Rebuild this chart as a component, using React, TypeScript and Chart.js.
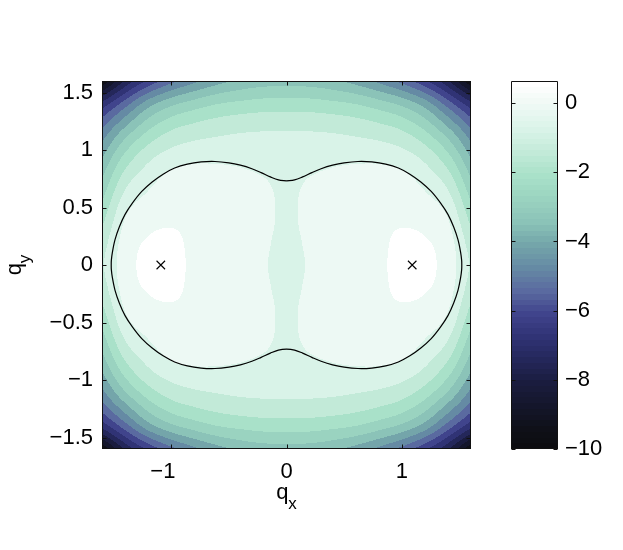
import React, { useEffect, useRef } from 'react';
import { Chart, registerables } from 'chart.js';

Chart.register(...registerables);

const FONT = "'Liberation Sans', Arial, Helvetica, sans-serif";

// ---------- data ----------
const X_TICKS = [-1, 0, 1];
const Y_TICKS = [-1.5, -1, -0.5, 0, 0.5, 1, 1.5];
const CB_TICKS = [0, -2, -4, -6, -8, -10];
const AXIS_MIN = -1.6;
const AXIS_MAX = 1.6;
const CB_MIN = -10;
const CB_MAX = 0.64;

// field samples in one quadrant (q >= 0), the surface is symmetric in qx and qy
const GRID_NODES = [0, 0.2, 0.4, 0.6, 0.8, 1.0, 1.2, 1.4, 1.6];
const ROW_00 = [-1.00, -0.62, -0.42, -0.22, -0.17, 0.24, 0.15, -0.32, -1.45];
const ROW_02 = [-0.97, -0.53, -0.38, -0.22, -0.20, 0.16, 0.04, -0.40, -1.71];
const ROW_04 = [-0.90, -0.40, -0.36, -0.25, -0.20, -0.14, -0.27, -0.68, -2.23];
const ROW_06 = [-0.93, -0.42, -0.40, -0.35, -0.30, -0.32, -0.60, -1.18, -2.85];
const ROW_08 = [-1.02, -0.75, -0.60, -0.52, -0.50, -0.62, -1.07, -1.89, -3.52];
const ROW_10 = [-1.12, -1.09, -1.04, -1.03, -1.08, -1.28, -1.80, -2.80, -4.35];
const ROW_12 = [-1.45, -1.46, -1.52, -1.65, -1.85, -2.17, -2.87, -4.02, -5.42];
const ROW_14 = [-2.39, -2.40, -2.52, -2.69, -3.04, -3.50, -4.30, -5.65, -7.13];
const ROW_16 = [-3.60, -3.68, -3.88, -4.28, -4.85, -5.57, -6.56, -7.93, -10.0];
const FIELD = [ROW_00, ROW_02, ROW_04, ROW_06, ROW_08, ROW_10, ROW_12, ROW_14, ROW_16];

// contour levels of the filled plot
const LEVELS = [0.64, -0.025, -0.69, -1.355, -2.02, -2.685, -3.35, -4.015, -4.68, -5.345, -6.01, -6.675, -7.34, -8.005, -8.67, -9.335, -10];

// colormap stops
const CMAP_V = [0.64, 0, -0.7, -1.35, -2.0, -2.7, -3.35, -4.0, -4.7, -5.35, -6.0, -6.7, -7.35, -8.0, -8.7, -9.35, -10];
const CMAP_C = ['#ffffff', '#eef9f4', '#d9f3e8', '#c2ead8', '#a9e1c9', '#9ad3c0', '#8bc3b8', '#74a6aa', '#6589a4', '#5a6aa0', '#40448c', '#2f3274', '#24275a', '#1a1c3e', '#14162a', '#0f1018', '#0b0b0d'];
const CB_CELLS = 64;

// black contour, quadrant qx >= 0, qy >= 0 (from neck to right extreme)
const CONTOUR_Q: [number, number][] = [
  [0, 0.732], [0.07, 0.74], [0.14, 0.766], [0.22, 0.803], [0.3, 0.837], [0.4, 0.868],
  [0.5, 0.888], [0.62, 0.9], [0.74, 0.896], [0.86, 0.877], [0.97, 0.843], [1.07, 0.79],
  [1.165, 0.722], [1.255, 0.64], [1.335, 0.54], [1.4, 0.44], [1.45, 0.33], [1.487, 0.22],
  [1.51, 0.11], [1.519, 0.04], [1.52, 0],
];

const MARKERS_X = [-1.09, 1.09];
const MARKERS_Y = [0, 0];

// ---------- helpers ----------
function hexRgb(h: string): [number, number, number] {
  return [parseInt(h.slice(1, 3), 16), parseInt(h.slice(3, 5), 16), parseInt(h.slice(5, 7), 16)];
}
const CMAP_RGB = CMAP_C.map(hexRgb);

function cmap(v: number): [number, number, number] {
  if (v >= CMAP_V[0]) return CMAP_RGB[0];
  for (let k = 1; k < CMAP_V.length; k++) {
    if (v >= CMAP_V[k]) {
      const t = (CMAP_V[k - 1] - v) / (CMAP_V[k - 1] - CMAP_V[k]);
      const a = CMAP_RGB[k - 1], b = CMAP_RGB[k];
      return [a[0] + (b[0] - a[0]) * t, a[1] + (b[1] - a[1]) * t, a[2] + (b[2] - a[2]) * t];
    }
  }
  return CMAP_RGB[CMAP_RGB.length - 1];
}

const NMAX = GRID_NODES.length - 1;
const STEP = GRID_NODES[1] - GRID_NODES[0];

function nodeVal(i: number, j: number): number {
  const ii = Math.abs(i), jj = Math.abs(j);
  if (ii > NMAX) return 2 * nodeVal(NMAX, jj) - nodeVal(NMAX - 1, jj);
  if (jj > NMAX) return 2 * nodeVal(ii, NMAX) - nodeVal(ii, NMAX - 1);
  return FIELD[jj][ii];
}

function cr(p0: number, p1: number, p2: number, p3: number, t: number) {
  return 0.5 * (2 * p1 + (-p0 + p2) * t + (2 * p0 - 5 * p1 + 4 * p2 - p3) * t * t + (-p0 + 3 * p1 - 3 * p2 + p3) * t * t * t);
}

function fieldAt(x: number, y: number): number {
  const u = Math.min(Math.abs(x) / STEP, NMAX);
  const w = Math.min(Math.abs(y) / STEP, NMAX);
  const i = Math.min(Math.floor(u), NMAX - 1);
  const j = Math.min(Math.floor(w), NMAX - 1);
  const tx = u - i, ty = w - j;
  const col: number[] = [];
  for (let m = -1; m <= 2; m++) {
    col.push(cr(nodeVal(i - 1, j + m), nodeVal(i, j + m), nodeVal(i + 1, j + m), nodeVal(i + 2, j + m), tx));
  }
  return cr(col[0], col[1], col[2], col[3], ty);
}

function fmt(v: number): string {
  const s = String(Math.abs(Math.round(v * 100) / 100));
  return v < 0 ? '\u2212' + s : s;
}

function contourLoop() {
  const pts: { x: number; y: number }[] = [];
  const n = CONTOUR_Q.length;
  for (let k = 0; k < n; k++) pts.push({ x: CONTOUR_Q[k][0], y: CONTOUR_Q[k][1] });
  for (let k = n - 2; k >= 0; k--) pts.push({ x: CONTOUR_Q[k][0], y: -CONTOUR_Q[k][1] });
  for (let k = 1; k < n; k++) pts.push({ x: -CONTOUR_Q[k][0], y: -CONTOUR_Q[k][1] });
  for (let k = n - 2; k >= 0; k--) pts.push({ x: -CONTOUR_Q[k][0], y: CONTOUR_Q[k][1] });
  return pts;
}

// ---------- plugins ----------
const fieldPlugin = {
  id: 'fieldFill',
  beforeDatasetsDraw(chart: any) {
    const { ctx, chartArea: a, scales } = chart;
    const xs = scales.x, ys = scales.y;
    const w = Math.round(a.right - a.left), h = Math.round(a.bottom - a.top);
    const off = document.createElement('canvas');
    off.width = w; off.height = h;
    const octx = off.getContext('2d')!;
    const img = octx.createImageData(w, h);
    const bandRgb = LEVELS.map((v) => cmap(v));
    const xv: number[] = [];
    for (let i = 0; i < w; i++) xv.push(xs.getValueForPixel(a.left + i + 0.5));
    for (let j = 0; j < h; j++) {
      const yv = ys.getValueForPixel(a.top + j + 0.5);
      for (let i = 0; i < w; i++) {
        const v = fieldAt(xv[i], yv);
        let k = 1;
        while (k < LEVELS.length - 1 && v < LEVELS[k]) k++;
        const c = bandRgb[k - 1];
        const p = (j * w + i) * 4;
        img.data[p] = c[0]; img.data[p + 1] = c[1]; img.data[p + 2] = c[2]; img.data[p + 3] = 255;
      }
    }
    octx.putImageData(img, 0, 0);
    ctx.drawImage(off, a.left, a.top);
  },
};

function drawFrame(chart: any, xTicks: number[] | null, yTicks: number[], tl: number) {
  const { ctx, chartArea: a, scales } = chart;
  ctx.save();
  ctx.strokeStyle = '#111';
  ctx.lineWidth = 1;
  const L = Math.round(a.left) + 0.5, R = Math.round(a.right) - 0.5;
  const T = Math.round(a.top) + 0.5, B = Math.round(a.bottom) - 0.5;
  ctx.beginPath();
  ctx.rect(L, T, R - L, B - T);
  if (xTicks) {
    for (const v of xTicks) {
      const px = Math.round(scales.x.getPixelForValue(v)) + 0.5;
      ctx.moveTo(px, B); ctx.lineTo(px, B - tl);
      ctx.moveTo(px, T); ctx.lineTo(px, T + tl);
    }
  }
  for (const v of yTicks) {
    const py = Math.round(scales.y.getPixelForValue(v)) + 0.5;
    ctx.moveTo(L, py); ctx.lineTo(L + tl, py);
    ctx.moveTo(R, py); ctx.lineTo(R - tl, py);
  }
  ctx.stroke();
  ctx.restore();
}

const framePlugin = {
  id: 'mainFrame',
  afterDraw(chart: any) {
    drawFrame(chart, X_TICKS, Y_TICKS, 4);
    const { ctx, chartArea: a } = chart;
    ctx.save();
    ctx.fillStyle = '#000';
    ctx.textBaseline = 'alphabetic';
    ctx.textAlign = 'left';
    const big = `22px ${FONT}`, small = `17px ${FONT}`;
    ctx.font = big; const qw = ctx.measureText('q').width;
    ctx.font = small; const sxw = ctx.measureText('x').width; const syw = ctx.measureText('y').width;
    // x title
    const cx = (a.left + a.right) / 2;
    let x0 = cx - (qw + sxw) / 2;
    ctx.font = big; ctx.fillText('q', x0, 499);
    ctx.font = small; ctx.fillText('x', x0 + qw, 509);
    // y title
    const cy = (a.top + a.bottom) / 2;
    ctx.translate(21, cy);
    ctx.rotate(-Math.PI / 2);
    x0 = -(qw + syw) / 2;
    ctx.font = big; ctx.fillText('q', x0, 0);
    ctx.font = small; ctx.fillText('y', x0 + qw, 9);
    ctx.restore();
  },
};

const colorbarPlugin = {
  id: 'cbFill',
  beforeDatasetsDraw(chart: any) {
    const { ctx, chartArea: a, scales } = chart;
    const ys = scales.y;
    const d = (CB_MAX - CB_MIN) / CB_CELLS;
    for (let k = 0; k < CB_CELLS; k++) {
      const lo = CB_MIN + k * d, hi = lo + d;
      const c = cmap(hi);
      const y1 = Math.round(ys.getPixelForValue(hi)), y2 = Math.round(ys.getPixelForValue(lo));
      ctx.fillStyle = `rgb(${Math.round(c[0])},${Math.round(c[1])},${Math.round(c[2])})`;
      ctx.fillRect(Math.round(a.left), y1, Math.round(a.right) - Math.round(a.left), y2 - y1);
    }
  },
  afterDraw(chart: any) {
    drawFrame(chart, null, CB_TICKS, 4);
  },
};

// ---------- component ----------
export default function App() {
  const mainRef = useRef<HTMLCanvasElement>(null);
  const cbRef = useRef<HTMLCanvasElement>(null);

  useEffect(() => {
    const tickFont = { family: FONT, size: 22 };
    const xLabel = (v: any) => {
      const n = Number(v);
      return n < 0 ? fmt(n) + '\u2007\u2009' : fmt(n);
    };
    const main = new Chart(mainRef.current!, {
      type: 'scatter',
      data: {
        datasets: [
          {
            type: 'line',
            data: contourLoop(),
            borderColor: '#000',
            borderWidth: 1.2,
            pointRadius: 0,
            tension: 0.35,
            fill: false,
          } as any,
          {
            type: 'scatter',
            data: MARKERS_X.map((x, i) => ({ x, y: MARKERS_Y[i] })),
            pointStyle: 'crossRot',
            pointRadius: 6,
            borderColor: '#000',
            borderWidth: 1.1,
            backgroundColor: 'rgba(0,0,0,0)',
          } as any,
        ],
      },
      options: {
        animation: false,
        responsive: false,
        devicePixelRatio: 1,
        events: [],
        plugins: { legend: { display: false }, tooltip: { enabled: false } },
        layout: { padding: { left: 0, top: 81, right: 29, bottom: 0 } },
        scales: {
          x: {
            type: 'linear',
            min: AXIS_MIN,
            max: AXIS_MAX,
            afterBuildTicks: (s: any) => { s.ticks = X_TICKS.map((v) => ({ value: v })); },
            afterFit: (s: any) => { s.height = 101; },
            grid: { display: false, drawTicks: false },
            border: { display: false },
            ticks: { color: '#000', font: tickFont, padding: 10, maxRotation: 0, autoSkip: false, callback: xLabel },
          },
          y: {
            type: 'linear',
            min: AXIS_MIN,
            max: AXIS_MAX,
            afterBuildTicks: (s: any) => { s.ticks = Y_TICKS.map((v) => ({ value: v })); },
            afterFit: (s: any) => { s.width = 102; },
            grid: { display: false, drawTicks: false },
            border: { display: false },
            ticks: { color: '#000', font: tickFont, padding: 9, autoSkip: false, callback: (v: any) => fmt(Number(v)) },
          },
        },
      } as any,
      plugins: [fieldPlugin, framePlugin],
    });

    const cb = new Chart(cbRef.current!, {
      type: 'scatter',
      data: { datasets: [{ data: [] }] },
      options: {
        animation: false,
        responsive: false,
        devicePixelRatio: 1,
        events: [],
        plugins: { legend: { display: false }, tooltip: { enabled: false } },
        layout: { padding: { left: 21, top: 81, right: 0, bottom: 101 } },
        scales: {
          x: { type: 'linear', min: 0, max: 1, display: false },
          y: {
            type: 'linear',
            position: 'right',
            min: CB_MIN,
            max: CB_MAX,
            afterBuildTicks: (s: any) => { s.ticks = CB_TICKS.map((v) => ({ value: v })); },
            afterFit: (s: any) => { s.width = 65; },
            grid: { display: false, drawTicks: false },
            border: { display: false },
            ticks: { color: '#000', font: tickFont, padding: 7, autoSkip: false, callback: (v: any) => fmt(Number(v)) },
          },
        },
      } as any,
      plugins: [colorbarPlugin],
    });

    return () => { main.destroy(); cb.destroy(); };
  }, []);

  return (
    <div style={{ position: 'absolute', left: 0, top: 0, width: 623, height: 550, background: '#fff' }}>
      <canvas ref={mainRef} width={500} height={550} style={{ position: 'absolute', left: 0, top: 0, width: 500, height: 550 }} />
      <canvas ref={cbRef} width={133} height={550} style={{ position: 'absolute', left: 490, top: 0, width: 133, height: 550 }} />
    </div>
  );
}
